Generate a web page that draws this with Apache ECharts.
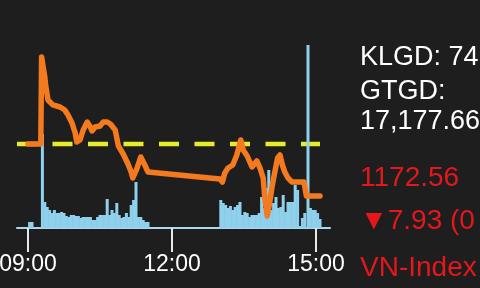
<!DOCTYPE html>
<html>
<head>
<meta charset="utf-8">
<style>
  html, body { margin: 0; padding: 0; background: #1e1e1e; }
  #chart { width: 480px; height: 288px; }
</style>
<script src="https://cdn.jsdelivr.net/npm/echarts@6/dist/echarts.min.js"></script>
</head>
<body>
<div id="chart"></div>
<script>
// Minutes after 09:00
const tickMinutes = [0, 180, 360];
const tickLabels = ["09:00", "12:00", "15:00"];

const refPrice = 1180.49;

const priceMinutes = [0, 16, 17, 19, 21, 22, 25, 31, 40, 46, 50, 55, 59, 61, 65, 69, 74, 78, 80, 84, 86, 90, 94, 99, 103, 109, 113, 119, 125, 129, 131, 136, 141, 146, 150,
  240, 243, 246, 250, 256, 261, 266, 269, 274, 280, 286, 290, 294, 296, 299, 301, 305, 309, 312, 315, 318, 321, 325, 330, 345, 348, 365];
const priceValues = [1180.49, 1180.49, 1193.75, 1193.60, 1190.70, 1189.48, 1187.20, 1186.44, 1186.13, 1185.67, 1184.91, 1183.69, 1182.17, 1180.79, 1181.10, 1182.62, 1183.84, 1183.08, 1182.47, 1183.08, 1182.93, 1183.23, 1183.84, 1183.84, 1183.54, 1182.62, 1180.19, 1178.97, 1177.44, 1176.22, 1175.31, 1176.68, 1178.51, 1177.29, 1176.22,
  1175.16, 1174.70, 1176.07, 1176.83, 1177.29, 1178.81, 1181.10, 1179.58, 1178.66, 1176.98, 1177.90, 1176.83, 1175.31, 1172.26, 1169.51, 1170.73, 1173.94, 1176.53, 1178.36, 1178.81, 1177.29, 1176.22, 1175.31, 1174.70, 1174.70, 1172.56, 1172.56];

const volMinutes = [2, 5, 18, 21, 24, 27, 30, 33, 36, 39, 42, 45, 48, 51, 54, 57, 60, 63, 66, 69, 72, 75, 78, 81, 84, 87, 90, 93, 96, 99, 102, 105, 108, 111, 114, 117, 120, 123, 126, 129, 132, 135, 138, 141, 144, 147, 150,
  241, 244, 247, 250, 253, 256, 259, 262, 265, 268, 271, 274, 277, 280, 283, 286, 289, 292, 295, 298, 301, 304, 307, 310, 313, 316, 319, 322, 325, 328, 331, 334, 337, 340, 343, 346, 350, 353, 356, 359, 362, 365];
const volValues = [6, 6, 94, 26, 21, 18, 15, 18, 15, 15, 16, 15, 12, 11, 13, 13, 12, 12, 10, 11, 11, 11, 11, 8, 8, 11, 13, 13, 13, 29, 13, 18, 15, 25, 13, 10, 11, 15, 11, 23, 28, 46, 11, 11, 8, 6, 6,
  28, 25, 23, 20, 22, 18, 21, 23, 26, 13, 16, 15, 11, 13, 13, 13, 15, 31, 20, 40, 58, 18, 25, 31, 20, 21, 33, 16, 26, 26, 26, 43, 38, 2, 10, 15, 183, 20, 18, 18, 15, 9];

const refMinutes = [-13.75, 365];

const chart = echarts.init(document.getElementById('chart'), null, { renderer: 'canvas' });

const textFont = '"Liberation Sans", Arial, sans-serif';
function label(text, top, color, size) {
  return {
    type: 'text', left: 360, top: top,
    style: { text: text, fill: color, font: size + 'px ' + textFont, textVerticalAlign: 'top' }
  };
}

chart.setOption({
  backgroundColor: '#1e1e1e',
  animation: false,
  grid: { left: 17, right: 150, top: 28, bottom: 60, containLabel: false, outerBoundsMode: 'none' },
  xAxis: {
    type: 'value',
    min: -13.75,
    max: 377.5,
    splitLine: { show: false },
    axisLine: { show: true, lineStyle: { color: '#a6d8ee', width: 2 } },
    axisTick: {
      show: true, length: 24, customValues: tickMinutes,
      lineStyle: { color: '#e8e8e8', width: 2 }
    },
    axisLabel: {
      customValues: tickMinutes,
      margin: 25,
      color: '#ffffff',
      fontSize: 23,
      fontFamily: textFont,
      formatter: function (v) {
        const i = tickMinutes.indexOf(v);
        return i >= 0 ? tickLabels[i] : '';
      }
    }
  },
  yAxis: [
    { type: 'value', min: 1167.685, max: 1198.17, show: false, splitLine: { show: false } },
    { type: 'value', min: 0, max: 200, show: false, splitLine: { show: false } }
  ],
  series: [
    {
      type: 'line',
      yAxisIndex: 0,
      z: 1,
      symbol: 'none',
      data: refMinutes.map(m => [m, refPrice]),
      lineStyle: { color: '#e6ec2c', width: 4.5, type: [20, 15.5] }
    },
    {
      type: 'bar',
      yAxisIndex: 1,
      z: 2,
      barWidth: 3,
      data: volMinutes.map((m, i) => [m, volValues[i]]),
      itemStyle: { color: '#8fd0ec' }
    },
    {
      type: 'line',
      yAxisIndex: 0,
      z: 3,
      symbol: 'none',
      data: priceMinutes.map((m, i) => [m, priceValues[i]]),
      lineStyle: { color: '#f47a1f', width: 5.5, join: 'round', cap: 'round' }
    }
  ],
  graphic: [
    label('KLGD: 74', 44, '#ffffff', 27),
    label('GTGD:', 78, '#ffffff', 27),
    label('17,177.66', 108, '#ffffff', 27),
    label('1172.56', 164, '#e3171c', 28),
    label('\u25BC7.93 (0', 207, '#e3171c', 28),
    label('VN-Index', 254, '#e3171c', 28)
  ]
});
</script>
</body>
</html>
